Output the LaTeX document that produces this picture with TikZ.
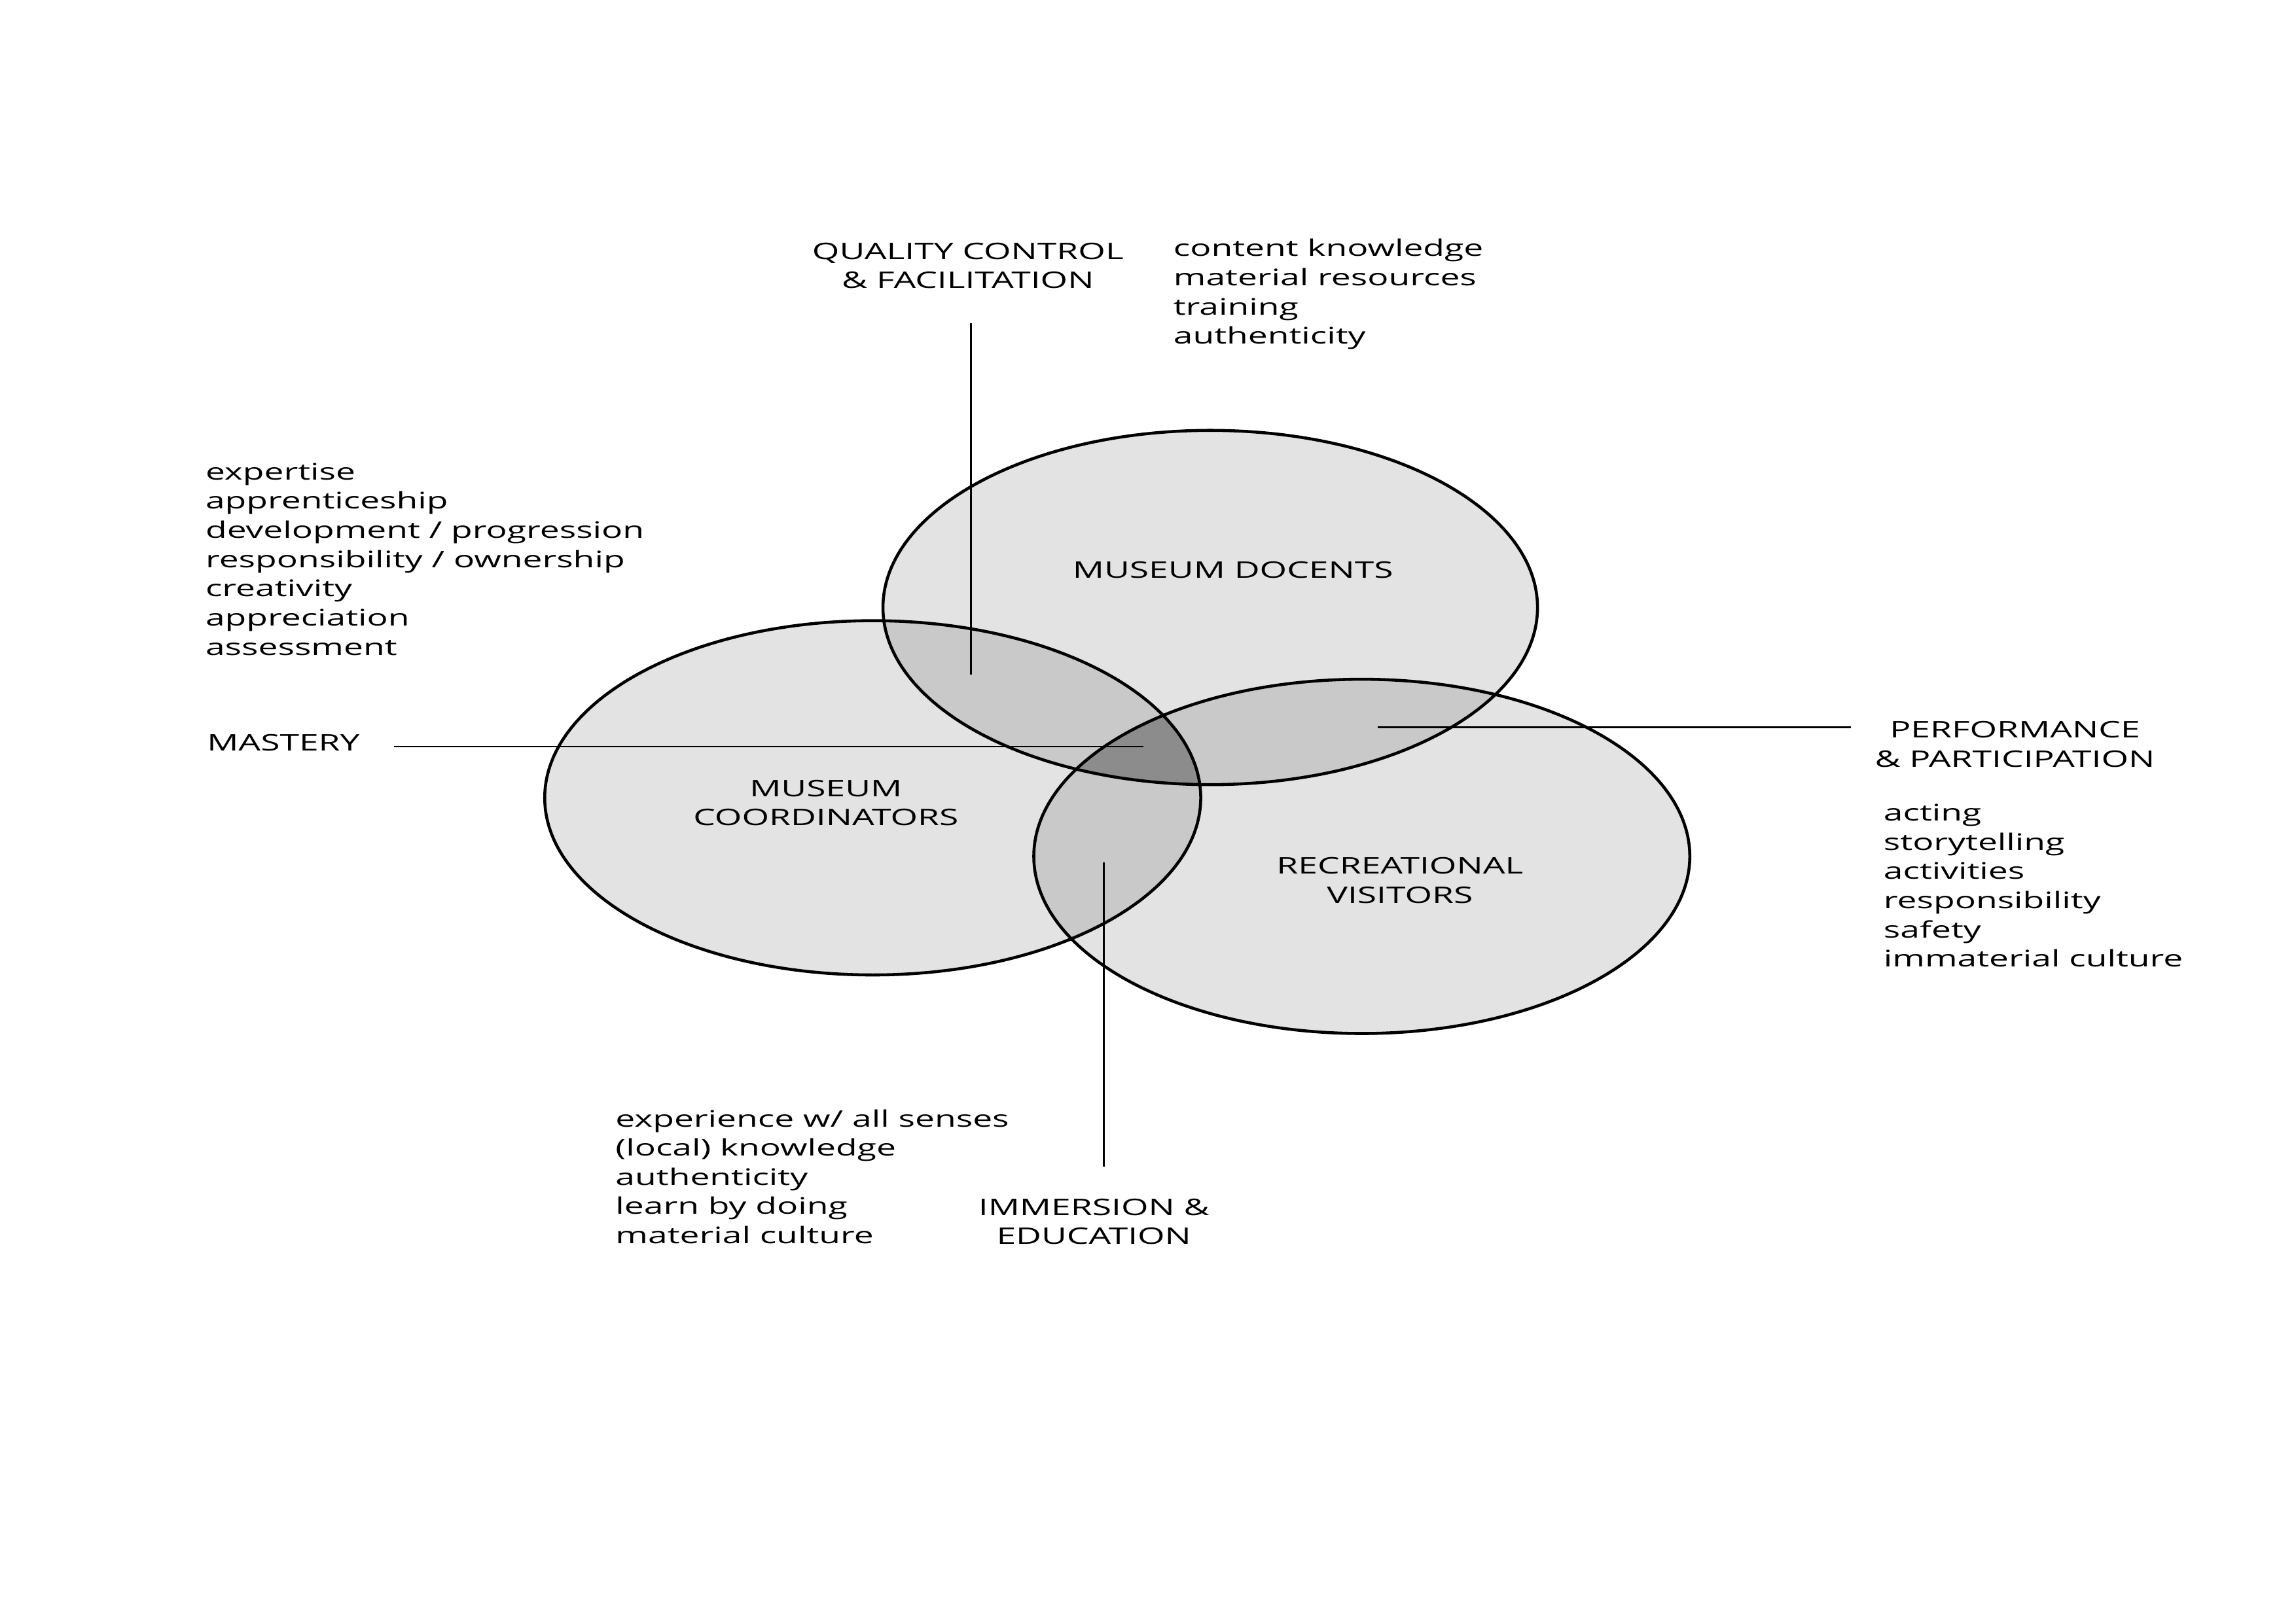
\documentclass[tikz,border=0pt]{standalone}
\usepackage{fontspec}
\setmainfont{Open Sans}[FakeStretch=1.53]
\newcommand\lblfont{\fontsize{8.4}{10.75}\selectfont}
\definecolor{baseg}{HTML}{E3E3E3}
\definecolor{pairg}{HTML}{C9C9C9}
\definecolor{tripg}{HTML}{8C8C8C}
\begin{document}
\begin{tikzpicture}[x=0.0189413cm,y=-0.0189413cm,
  lbl/.style={inner sep=0pt, font=\lblfont},
  head/.style={lbl, align=center, anchor=base},
  listtxt/.style={lbl, align=left, anchor=base west},
  ring/.style={line width=1.1pt},
  leader/.style={line width=0.7pt}]
\useasboundingbox[fill=white] (0,0) rectangle (1568,1109);
% base fills
\fill[baseg] (826.5,415) ellipse [x radius=223.5, y radius=121];
\fill[baseg] (596,545) ellipse [x radius=224, y radius=121];
\fill[baseg] (930,585) ellipse [x radius=224, y radius=121];
% pair overlaps
\begin{scope}
  \clip (826.5,415) ellipse [x radius=223.5, y radius=121];
  \fill[pairg] (596,545) ellipse [x radius=224, y radius=121];
  \fill[pairg] (930,585) ellipse [x radius=224, y radius=121];
\end{scope}
\begin{scope}
  \clip (596,545) ellipse [x radius=224, y radius=121];
  \fill[pairg] (930,585) ellipse [x radius=224, y radius=121];
\end{scope}
% triple overlap
\begin{scope}
  \clip (826.5,415) ellipse [x radius=223.5, y radius=121];
  \clip (596,545) ellipse [x radius=224, y radius=121];
  \fill[tripg] (930,585) ellipse [x radius=224, y radius=121];
\end{scope}
% outlines
\draw[ring] (826.5,415) ellipse [x radius=223.5, y radius=121];
\draw[ring] (596,545) ellipse [x radius=224, y radius=121];
\draw[ring] (930,585) ellipse [x radius=224, y radius=121];

% circle labels (anchor = baseline of last line)
\node[head] (docents) at (842,395) {MUSEUM DOCENTS};
\node[head] (coord) at (564,564) {MUSEUM\\COORDINATORS};
\node[head] (visitors) at (956,617) {RECREATIONAL\\VISITORS};

% outer headings
\node[head] (quality) at (661,197) {QUALITY CONTROL\\\& FACILITATION};
\node[lbl, anchor=base west] (mastery) at (141,513) {MASTERY};
\node[head] (perf) at (1376,524) {PERFORMANCE\\\& PARTICIPATION};
\node[head] (immersion) at (747,850) {IMMERSION \&\\EDUCATION};

% lists
\node[listtxt] (qlist) at (801,235) {content knowledge\\material resources\\training\\authenticity};
\node[listtxt] (mlist) at (140,447.5) {expertise\\apprenticeship\\development / progression\\responsibility / ownership\\creativity\\appreciation\\assessment};
\node[listtxt] (plist) at (1286,660.5) {acting\\storytelling\\activities\\responsibility\\safety\\immaterial culture};
\node[listtxt] (ilist) at (420,849.5) {experience w/ all senses\\(local) knowledge\\authenticity\\learn by doing\\material culture};

% leader lines
\coordinate (qtop) at (663,221);
\coordinate (qend) at (663,461);
\coordinate (mstart) at (269,510);
\coordinate (mend) at (781,510);
\coordinate (pstart) at (1264,497);
\coordinate (pend) at (941,497);
\coordinate (ibot) at (754,797);
\coordinate (iend) at (754,589);
\draw[leader] (qtop) -- (qend);
\draw[leader] (mstart) -- (mend);
\draw[leader] (pstart) -- (pend);
\draw[leader] (ibot) -- (iend);
\end{tikzpicture}
\end{document}
